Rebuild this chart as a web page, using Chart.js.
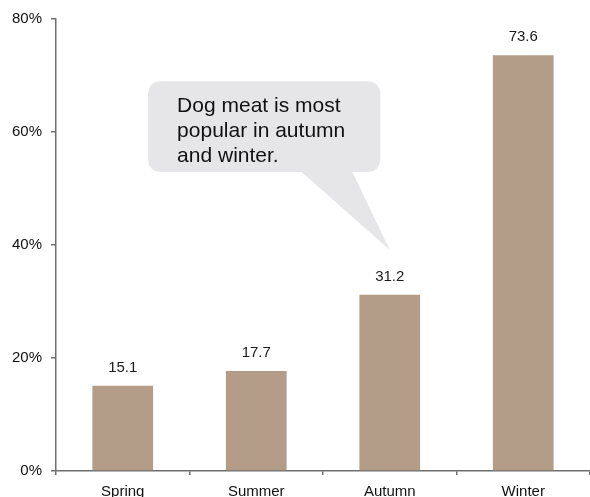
<!DOCTYPE html>
<html>
<head>
<meta charset="utf-8">
<script src="https://cdn.jsdelivr.net/npm/chart.js@4.4.1/dist/chart.umd.min.js"></script>
<style>
  html, body { margin: 0; padding: 0; background: #ffffff; }
  #wrap { width: 590px; height: 497px; position: relative; }
</style>
</head>
<body>
<div id="wrap"><canvas id="seasonChart"></canvas></div>
<script>
// data
const seasons = ['Spring', 'Summer', 'Autumn', 'Winter'];
const shareValues = [15.1, 17.7, 31.2, 73.6];
const yTicks = [0, 20, 40, 60, 80];
const calloutLines = ['Dog meat is most', 'popular in autumn', 'and winter.'];

const barColor = '#b39d88';
const axisColor = '#6e6e6e';
const fontFamily = "'Liberation Sans', Arial, Helvetica, sans-serif";

// labels above each bar
const valueLabels = {
    id: 'valueLabels',
    afterDatasetsDraw(chart) {
        const c = chart.ctx;
        const meta = chart.getDatasetMeta(0);
        c.save();
        c.font = '15px ' + fontFamily;
        c.fillStyle = '#1a1a1a';
        c.textAlign = 'center';
        c.textBaseline = 'middle';
        meta.data.forEach((bar, i) => {
            c.fillText(shareValues[i].toFixed(1), bar.x, bar.y - 18);
        });
        c.restore();
    }
};

// speech bubble pointing at the autumn bar
const callout = {
    id: 'callout',
    afterDatasetsDraw(chart) {
        const c = chart.ctx;
        const xs = chart.scales.x, ys = chart.scales.y;
        const x0 = xs.getPixelForValue(0), x1 = xs.getPixelForValue(1);
        const cx = (i) => x0 + (x1 - x0) * i;
        const left = cx(0.19), right = cx(1.93);
        const top = ys.getPixelForValue(69), bottom = ys.getPixelForValue(52.9);
        const r = 14;
        c.save();
        c.fillStyle = '#e6e6e8';
        c.beginPath();
        c.moveTo(left + r, top);
        c.lineTo(right - r, top);
        c.quadraticCurveTo(right, top, right, top + r);
        c.lineTo(right, bottom - r);
        c.quadraticCurveTo(right, bottom, right - r, bottom);
        c.lineTo(cx(1.72), bottom);
        c.lineTo(cx(2.0), ys.getPixelForValue(39.1));
        c.lineTo(cx(1.34), bottom);
        c.lineTo(left + r, bottom);
        c.quadraticCurveTo(left, bottom, left, bottom - r);
        c.lineTo(left, top + r);
        c.quadraticCurveTo(left, top, left + r, top);
        c.closePath();
        c.fill();

        c.font = '21px ' + fontFamily;
        c.fillStyle = '#111111';
        c.textAlign = 'left';
        c.textBaseline = 'alphabetic';
        calloutLines.forEach((line, i) => {
            c.fillText(line, left + 29, top + 31 + i * 25);
        });
        c.restore();
    }
};

const ctx = document.getElementById('seasonChart').getContext('2d');
new Chart(ctx, {
    type: 'bar',
    data: {
        labels: seasons,
        datasets: [{
            data: shareValues,
            backgroundColor: barColor,
            borderWidth: 0,
            categoryPercentage: 0.455,
            barPercentage: 1.0
        }]
    },
    options: {
        responsive: true,
        maintainAspectRatio: false,
        animation: false,
        layout: { padding: { top: 19, right: 0, left: 0, bottom: 0 } },
        plugins: {
            legend: { display: false },
            tooltip: { enabled: false }
        },
        scales: {
            x: {
                grid: {
                    drawOnChartArea: false,
                    drawTicks: true,
                    tickLength: 4,
                    color: axisColor,
                    lineWidth: 1.5
                },
                border: { color: axisColor, width: 1.5 },
                ticks: {
                    color: '#111111',
                    font: { family: fontFamily, size: 15 },
                    padding: 8
                },
                afterFit: (s) => { s.height = 26; }
            },
            y: {
                min: 0,
                max: 80,
                afterBuildTicks: (s) => { s.ticks = yTicks.map(v => ({ value: v })); },
                grid: {
                    drawOnChartArea: false,
                    drawTicks: true,
                    tickLength: 5,
                    color: axisColor,
                    lineWidth: 1.5
                },
                border: { color: axisColor, width: 1.5 },
                ticks: {
                    color: '#111111',
                    font: { family: fontFamily, size: 15 },
                    padding: 9,
                    callback: (v) => v + '%'
                },
                afterFit: (s) => { s.width = 56; }
            }
        }
    },
    plugins: [valueLabels, callout]
});
</script>
</body>
</html>
